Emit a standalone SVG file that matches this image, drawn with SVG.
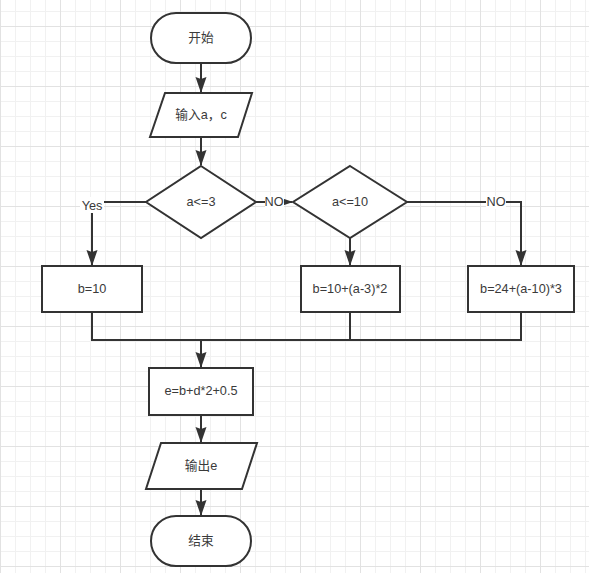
<svg xmlns="http://www.w3.org/2000/svg" width="589" height="573" viewBox="0 0 589 573">
<defs>
<pattern id="gmin" patternUnits="userSpaceOnUse" x="0" y="11" width="15" height="15">
<path d="M0.5 0V15M0 0.5H15" stroke="#f1f1f1" stroke-width="1" fill="none"/>
</pattern>
<pattern id="gmaj" patternUnits="userSpaceOnUse" x="0" y="26" width="60" height="60">
<path d="M0.5 0V60M0 0.5H60" stroke="#e2e2e2" stroke-width="1" fill="none"/>
</pattern>
<marker id="arr" markerUnits="userSpaceOnUse" markerWidth="16" markerHeight="12" viewBox="0 0 16 12" refX="15" refY="6" orient="auto">
<path d="M0,0.5 L16,6 L0,11.5 L2,6 Z" fill="#333"/>
</marker>
<style>
.n{fill:#fff;stroke:#333;stroke-width:2}
.e{fill:none;stroke:#333;stroke-width:2}
.t{font-family:"Liberation Sans","Noto Sans CJK SC",sans-serif;font-size:12.7px;fill:#3a3a3a;text-anchor:middle;dominant-baseline:central}
.lb{fill:#fff}
</style>
</defs>
<rect width="589" height="573" fill="#fff"/>
<rect width="589" height="573" fill="url(#gmin)"/>
<rect width="589" height="573" fill="url(#gmaj)"/>

<g id="connectors">
<path class="e" d="M201 63V92" marker-end="url(#arr)"/>
<path class="e" d="M201 137V165" marker-end="url(#arr)"/>
<path class="e" d="M146 202H92V265" marker-end="url(#arr)"/>
<path class="e" d="M256 202H292" marker-end="url(#arr)"/>
<path class="e" d="M350 238V265" marker-end="url(#arr)"/>
<path class="e" d="M407 202H521V265" marker-end="url(#arr)"/>
<path class="e" d="M92 312V340H521V312M350 312V340"/>
<path class="e" d="M201 340V367" marker-end="url(#arr)"/>
<path class="e" d="M201 415V442" marker-end="url(#arr)"/>
<path class="e" d="M201 489V515" marker-end="url(#arr)"/>
<rect class="lb" x="80" y="197" width="24" height="16"/>
<text class="t" x="92" y="206">Yes</text>
<rect class="lb" x="265" y="196" width="19" height="13"/>
<text class="t" x="274" y="202">NO</text>
<rect class="lb" x="486" y="196" width="20" height="13"/>
<text class="t" x="496" y="202">NO</text>
</g>

<g id="start">
<rect class="n" x="151" y="13" width="100" height="50" rx="25"/>
<text class="t" x="201" y="38">开始</text>
</g>
<g id="input">
<polygon class="n" points="165,93 252,93 238,137 150,137"/>
<text class="t" x="201" y="115">输入a，c</text>
</g>
<g id="cond1">
<polygon class="n" points="201,166 256,202 201,238 146,202"/>
<text class="t" x="201" y="202">a&lt;=3</text>
</g>
<g id="cond2">
<polygon class="n" points="350,166 407,202 350,238 293,202"/>
<text class="t" x="350" y="202">a&lt;=10</text>
</g>
<g id="b1">
<rect class="n" x="42" y="266" width="100" height="46"/>
<text class="t" x="92" y="289">b=10</text>
</g>
<g id="b2">
<rect class="n" x="301" y="266" width="99" height="46"/>
<text class="t" x="350" y="289">b=10+(a-3)*2</text>
</g>
<g id="b3">
<rect class="n" x="468" y="266" width="106" height="46"/>
<text class="t" x="521" y="289">b=24+(a-10)*3</text>
</g>
<g id="calc">
<rect class="n" x="149" y="368" width="104" height="47"/>
<text class="t" x="201" y="391">e=b+d*2+0.5</text>
</g>
<g id="output">
<polygon class="n" points="161,443 257,443 242,489 146,489"/>
<text class="t" x="201" y="466">输出e</text>
</g>
<g id="end">
<rect class="n" x="151" y="516" width="100" height="50" rx="25"/>
<text class="t" x="201" y="541">结束</text>
</g>
</svg>
